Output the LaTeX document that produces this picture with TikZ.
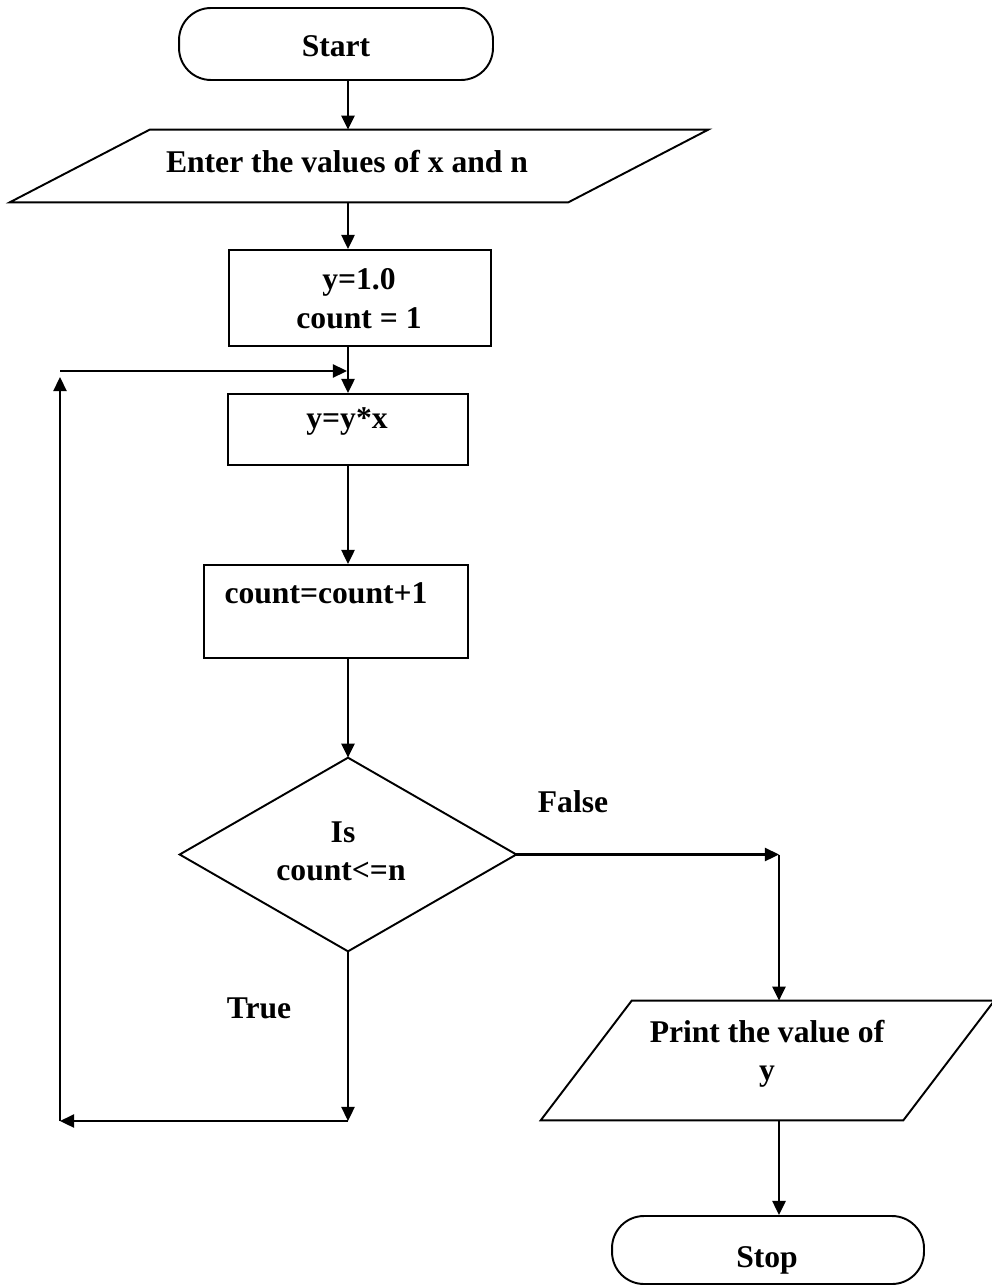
\documentclass[tikz,border=0pt]{standalone}
\usepackage{fontspec}
\setmainfont{Liberation Serif}
\usetikzlibrary{arrows.meta,calc}
\begin{document}
\begin{tikzpicture}[x=0.02cm,y=-0.02cm,
  shapeline/.style={draw=black,line width=1.1pt},
  frame/.style={shapeline,rectangle,inner sep=0pt},
  hidden/.style={rectangle,inner sep=0pt},
  terminal/.style={frame,rounded corners=0.64cm},
  lbl/.style={font=\fontsize{18}{22}\selectfont\bfseries,inner sep=0pt,anchor=base},
  flow/.style={line width=1.4pt,-{Triangle[length=8pt,width=7.4pt]}}]
\useasboundingbox (0,0) rectangle (991,1287);

% shapes
\node[terminal,minimum width=6.28cm,minimum height=1.44cm] (start) at (336,44) {};
\node[hidden,minimum width=13.96cm,minimum height=1.44cm] (in) at (359,166) {};
\draw[shapeline] ($(in.north west)+(140,0)$) -- (in.north east)
  -- ($(in.south east)+(-140,0)$) -- (in.south west) -- cycle;
\node[frame,minimum width=5.24cm,minimum height=1.92cm] (b1) at (360,298) {};
\node[frame,minimum width=4.8cm,minimum height=1.42cm] (b2) at (348,429.5) {};
\node[frame,minimum width=5.28cm,minimum height=1.86cm] (b3) at (336,611.5) {};
\node[hidden,minimum width=6.72cm,minimum height=3.86cm] (dia) at (348,854.5) {};
\draw[shapeline] (dia.north) -- (dia.east) -- (dia.south) -- (dia.west) -- cycle;
\node[hidden,minimum width=9.06cm,minimum height=2.38cm] (out) at (767.5,1060.5) {};
\draw[shapeline] ($(out.north west)+(91,0)$) -- (out.north east)
  -- ($(out.south east)+(-91,0)$) -- (out.south west) -- cycle;
\node[terminal,minimum width=6.24cm,minimum height=1.36cm] (stop) at (768,1250) {};

% texts
\node[lbl] (tstart) at (336,57) {Start};
\node[lbl] (tin) at (347,173) {Enter the values of x and n};
\node[lbl] (tb1a) at (359,290) {y=1.0};
\node[lbl] (tb1b) at (359,328) {count = 1};
\node[lbl] (tb2) at (347,428) {y=y*x};
\node[lbl] (tb3) at (326,603) {count=count+1};
\node[lbl] (tdia1) at (343,842) {Is};
\node[lbl] (tdia2) at (341,880) {count<=n};
\node[lbl] (tfalse) at (573,812) {False};
\node[lbl] (ttrue) at (259,1018) {True};
\node[lbl] (tout1) at (767,1042) {Print the value of};
\node[lbl] (tout2) at (767,1080) {y};
\node[lbl] (tstop) at (767,1267) {Stop};

% connectors
\coordinate (spine) at (348,0);
\coordinate (rspine) at (779,0);
\coordinate (fturn) at (779,854.5);
\coordinate (tturn) at (348,1121);
\coordinate (lturn) at (60,1121);
\coordinate (ltop) at (60,371);
\coordinate (merge) at (347,371);

\draw[flow] (spine |- start.south) -- (spine |- in.north);
\draw[flow] (spine |- in.south) -- (spine |- b1.north);
\draw[flow] (spine |- b1.south) -- (spine |- b2.north);
\draw[flow] (spine |- b2.south) -- (spine |- b3.north);
\draw[flow] (spine |- b3.south) -- (dia.north);
\draw[flow] (dia.east) -- (fturn);
\draw[flow] (fturn) -- (fturn |- out.north);
\draw[flow] (rspine |- out.south) -- (rspine |- stop.north);
\draw[flow] (dia.south) -- (tturn);
\draw[flow] (tturn) -- (lturn);
\draw[flow] (lturn) -- ($(ltop)+(0,6)$);
\draw[flow] (ltop) -- (merge);
\end{tikzpicture}
\end{document}
